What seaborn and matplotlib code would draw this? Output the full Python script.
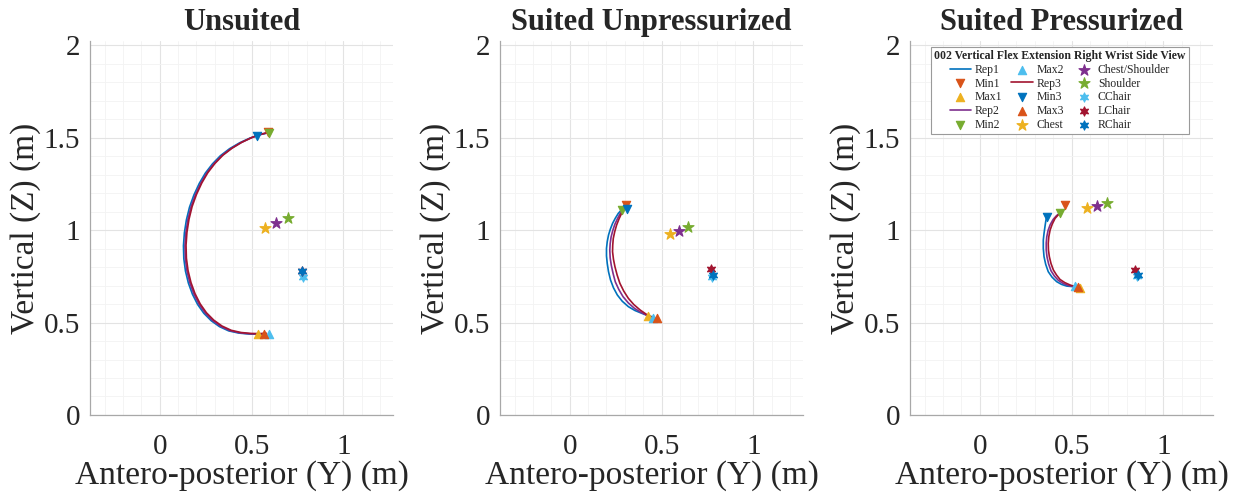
import numpy as np
import pandas as pd
import matplotlib
matplotlib.use("Agg")
import matplotlib.pyplot as plt
from matplotlib.ticker import MultipleLocator
import seaborn as sns

# ---- data (Y = antero-posterior, Z = vertical, metres) ----
TITLES = ["Unsuited", "Suited Unpressurized", "Suited Pressurized"]
REP_LABELS = ["Rep1", "Rep2", "Rep3"]

# Unsuited
U_REP1_Y = [0.585, 0.54, 0.49, 0.435, 0.38, 0.33, 0.287, 0.248, 0.215, 0.186, 0.162, 0.145, 0.134,
            0.129, 0.131, 0.14, 0.156, 0.178, 0.206, 0.24, 0.28, 0.325, 0.375, 0.43, 0.485, 0.535, 0.57]
U_REP1_Z = [1.525, 1.515, 1.497, 1.472, 1.44, 1.402, 1.358, 1.308, 1.252, 1.19, 1.124, 1.055, 0.985,
            0.915, 0.845, 0.778, 0.713, 0.653, 0.598, 0.55, 0.51, 0.478, 0.455, 0.443, 0.438, 0.437, 0.438]
U_REP2_Y = [0.59, 0.545, 0.496, 0.442, 0.388, 0.338, 0.295, 0.256, 0.223, 0.194, 0.17, 0.153, 0.142,
            0.137, 0.139, 0.148, 0.164, 0.186, 0.214, 0.248, 0.288, 0.333, 0.383, 0.437, 0.492, 0.54, 0.575]
U_REP2_Z = [1.527, 1.516, 1.498, 1.473, 1.441, 1.403, 1.359, 1.309, 1.253, 1.191, 1.125, 1.056, 0.986,
            0.916, 0.846, 0.779, 0.714, 0.654, 0.599, 0.551, 0.511, 0.479, 0.456, 0.444, 0.439, 0.438, 0.44]
U_REP3_Y = [0.592, 0.548, 0.5, 0.447, 0.394, 0.344, 0.301, 0.262, 0.229, 0.2, 0.176, 0.159, 0.148,
            0.143, 0.145, 0.154, 0.17, 0.192, 0.22, 0.254, 0.294, 0.339, 0.389, 0.443, 0.497, 0.545, 0.58]
U_REP3_Z = [1.528, 1.518, 1.5, 1.475, 1.443, 1.405, 1.361, 1.311, 1.255, 1.193, 1.127, 1.058, 0.988,
            0.918, 0.848, 0.781, 0.716, 0.656, 0.601, 0.553, 0.513, 0.481, 0.458, 0.446, 0.441, 0.44, 0.442]
U_MIN_Y = [0.59, 0.595, 0.53]
U_MIN_Z = [1.53, 1.525, 1.51]
U_MAX_Y = [0.535, 0.595, 0.565]
U_MAX_Z = [0.44, 0.44, 0.44]
U_STAR_Y = [0.574, 0.634, 0.698]
U_STAR_Z = [1.012, 1.036, 1.063]
U_CHAIR_Y = [0.778, 0.775, 0.774]
U_CHAIR_Z = [0.748, 0.78, 0.778]

# Suited unpressurized
S_REP1_Y = [0.301, 0.282, 0.264, 0.248, 0.233, 0.221, 0.211, 0.204, 0.200, 0.200, 0.204, 0.211, 0.222,
            0.238, 0.259, 0.286, 0.319, 0.355, 0.392, 0.422, 0.446]
S_REP1_Z = [1.126, 1.110, 1.090, 1.064, 1.036, 1.005, 0.973, 0.937, 0.901, 0.860, 0.820, 0.775, 0.730,
            0.688, 0.649, 0.615, 0.586, 0.565, 0.550, 0.539, 0.532]
S_REP2_Y = [0.305, 0.29, 0.275, 0.26, 0.245, 0.234, 0.225, 0.22, 0.218, 0.22, 0.226, 0.236, 0.248,
            0.267, 0.29, 0.319, 0.352, 0.384, 0.415, 0.44, 0.46]
S_REP2_Z = [1.126, 1.110, 1.09, 1.062, 1.03, 0.997, 0.962, 0.926, 0.89, 0.85, 0.81, 0.765, 0.72,
            0.679, 0.64, 0.606, 0.577, 0.557, 0.541, 0.531, 0.525]
S_REP3_Y = [0.310, 0.296, 0.282, 0.268, 0.255, 0.245, 0.237, 0.234, 0.233, 0.238, 0.246, 0.258, 0.273,
            0.294, 0.319, 0.349, 0.383, 0.412, 0.437, 0.458, 0.474]
S_REP3_Z = [1.126, 1.110, 1.090, 1.060, 1.027, 0.992, 0.955, 0.919, 0.883, 0.842, 0.802, 0.757, 0.712,
            0.670, 0.631, 0.597, 0.568, 0.548, 0.532, 0.523, 0.517]
S_MIN_Y = [0.304, 0.286, 0.31]
S_MIN_Z = [1.135, 1.108, 1.112]
S_MAX_Y = [0.428, 0.455, 0.477]
S_MAX_Z = [0.535, 0.523, 0.526]
S_STAR_Y = [0.546, 0.596, 0.643]
S_STAR_Z = [0.977, 0.995, 1.015]
S_CHAIR_Y = [0.773, 0.769, 0.778]
S_CHAIR_Z = [0.748, 0.787, 0.757]

# Suited pressurized
P_REP1_Y = [0.364, 0.359, 0.355, 0.350, 0.346, 0.346, 0.350, 0.359, 0.373, 0.394, 0.419, 0.446, 0.474,
            0.498, 0.519]
P_REP1_Z = [1.072, 1.045, 1.018, 0.982, 0.946, 0.901, 0.856, 0.815, 0.775, 0.745, 0.721, 0.706, 0.697,
            0.695, 0.694]
P_REP2_Y = [0.440, 0.418, 0.400, 0.384, 0.372, 0.365, 0.362, 0.362, 0.366, 0.375, 0.388, 0.406, 0.428,
            0.455, 0.483, 0.508, 0.528]
P_REP2_Z = [1.095, 1.078, 1.058, 1.030, 0.998, 0.964, 0.93, 0.893, 0.856, 0.817, 0.78, 0.752, 0.728,
            0.711, 0.70, 0.695, 0.692]
P_REP3_Y = [0.446, 0.427, 0.410, 0.395, 0.383, 0.376, 0.373, 0.374, 0.379, 0.388, 0.401, 0.418, 0.437,
            0.463, 0.492, 0.514, 0.532]
P_REP3_Z = [1.099, 1.082, 1.063, 1.033, 1.000, 0.964, 0.928, 0.892, 0.856, 0.819, 0.784, 0.757, 0.733,
            0.716, 0.703, 0.696, 0.690]
P_MIN_Y = [0.464, 0.437, 0.364]
P_MIN_Z = [1.135, 1.090, 1.072]
P_MAX_Y = [0.546, 0.519, 0.537]
P_MAX_Z = [0.685, 0.699, 0.690]
P_STAR_Y = [0.583, 0.638, 0.692]
P_STAR_Z = [1.117, 1.132, 1.144]
P_CHAIR_Y = [0.855, 0.843, 0.862]
P_CHAIR_Z = [0.752, 0.784, 0.757]

# MATLAB default colour order
C_BLUE, C_ORANGE, C_YELLOW = "#0072BD", "#D95319", "#EDB120"
C_PURPLE, C_GREEN, C_CYAN, C_RED = "#7E2F8E", "#77AC30", "#4DBEEE", "#A2142F"

REP_COLORS = [C_BLUE, C_PURPLE, C_RED]
MIN_COLORS = [C_ORANGE, C_GREEN, C_BLUE]
MAX_COLORS = [C_YELLOW, C_CYAN, C_ORANGE]
STAR_LABELS = ["Chest", "Chest/Shoulder", "Shoulder"]
STAR_COLORS = [C_YELLOW, C_PURPLE, C_GREEN]
CHAIR_LABELS = ["CChair", "LChair", "RChair"]
CHAIR_COLORS = [C_CYAN, C_RED, C_BLUE]

LEGEND_ORDER = ["Rep1", "Min1", "Max1", "Rep2", "Min2", "Max2", "Rep3", "Min3", "Max3",
                "Chest", "Chest/Shoulder", "Shoulder", "CChair", "LChair", "RChair"]

PANELS = [
    ([(U_REP1_Y, U_REP1_Z), (U_REP2_Y, U_REP2_Z), (U_REP3_Y, U_REP3_Z)],
     U_MIN_Y, U_MIN_Z, U_MAX_Y, U_MAX_Z, U_STAR_Y, U_STAR_Z, U_CHAIR_Y, U_CHAIR_Z),
    ([(S_REP1_Y, S_REP1_Z), (S_REP2_Y, S_REP2_Z), (S_REP3_Y, S_REP3_Z)],
     S_MIN_Y, S_MIN_Z, S_MAX_Y, S_MAX_Z, S_STAR_Y, S_STAR_Z, S_CHAIR_Y, S_CHAIR_Z),
    ([(P_REP1_Y, P_REP1_Z), (P_REP2_Y, P_REP2_Z), (P_REP3_Y, P_REP3_Z)],
     P_MIN_Y, P_MIN_Z, P_MAX_Y, P_MAX_Z, P_STAR_Y, P_STAR_Z, P_CHAIR_Y, P_CHAIR_Z),
]

HEXAGRAM = (6, 1, 0)

sns.set_style("white")
plt.rcParams["font.family"] = ["Liberation Serif", "DejaVu Serif"]


def point(ax, y, z, marker, color, label, size):
    sns.scatterplot(x=[y], y=[z], ax=ax, marker=marker, color=color, s=size,
                    edgecolor=color, linewidth=0.8, label=label, legend=False, zorder=3)


def draw_panel(ax, title, reps, min_y, min_z, max_y, max_z, star_y, star_z, chair_y, chair_z):
    for i in range(3):
        ry, rz = reps[i]
        df = pd.DataFrame({"y": ry, "z": rz})
        sns.lineplot(data=df, x="y", y="z", sort=False, estimator=None, ax=ax,
                     color=REP_COLORS[i], linewidth=1.2, label=REP_LABELS[i], zorder=2)
        point(ax, min_y[i], min_z[i], "v", MIN_COLORS[i], f"Min{i+1}", 36)
        point(ax, max_y[i], max_z[i], "^", MAX_COLORS[i], f"Max{i+1}", 36)
    for i in range(3):
        point(ax, star_y[i], star_z[i], "*", STAR_COLORS[i], STAR_LABELS[i], 70)
    for i in range(3):
        point(ax, chair_y[i], chair_z[i], HEXAGRAM, CHAIR_COLORS[i], CHAIR_LABELS[i], 45)

    ax.set_xlim(-0.38, 1.27)
    ax.set_ylim(0, 2.02)
    ax.xaxis.set_minor_locator(MultipleLocator(0.1))
    ax.yaxis.set_minor_locator(MultipleLocator(0.1))
    ax.set_xticks([0, 0.5, 1])
    ax.set_xticklabels(["0", "0.5", "1"])
    ax.set_yticks([0, 0.5, 1, 1.5, 2])
    ax.set_yticklabels(["0", "0.5", "1", "1.5", "2"])
    ax.grid(which="major", color="#e3e3e3", linewidth=0.8)
    ax.grid(which="minor", color="#f3f3f3", linewidth=0.6)
    ax.set_axisbelow(True)
    ax.tick_params(axis="x", which="major", pad=14)
    ax.tick_params(axis="y", which="major", pad=7)
    ax.tick_params(which="major", direction="in", length=4, width=0.8, color="#999999",
                   labelsize=21, labelcolor="#262626")
    ax.tick_params(which="minor", length=0)
    for side in ["top", "right"]:
        ax.spines[side].set_visible(False)
    for side in ["left", "bottom"]:
        ax.spines[side].set_color("#a8a8a8")
        ax.spines[side].set_linewidth(0.9)
    ax.set_title(title, fontsize=22, fontweight="bold", pad=8)
    ax.set_xlabel("Antero-posterior (Y) (m)", fontsize=24, color="#262626", labelpad=0)
    ax.set_ylabel("Vertical (Z) (m)", fontsize=24, color="#262626", labelpad=2)
    if ax.get_legend() is not None:
        ax.get_legend().remove()


fig = plt.figure(figsize=(12.34, 4.98), dpi=100)
lefts = [90 / 1234, 500 / 1234, 910 / 1234]
axes = [fig.add_axes([l, 0.1667, 0.2455, 0.750]) for l in lefts]

for ax, title, panel in zip(axes, TITLES, PANELS):
    draw_panel(ax, title, *panel)

# legend on the last panel, column-major like MATLAB
ax = axes[2]
handles, labels = ax.get_legend_handles_labels()
lookup = dict(zip(labels, handles))
leg = ax.legend([lookup[k] for k in LEGEND_ORDER], LEGEND_ORDER, ncol=3,
                loc="upper center", bbox_to_anchor=(0.495, 0.985),
                title="002 Vertical Flex Extension Right Wrist Side View",
                fontsize=8.5, title_fontproperties={"weight": "bold", "size": 8.5},
                frameon=True, fancybox=False, edgecolor="#9a9a9a", framealpha=1,
                handlelength=1.8, handletextpad=0.3, columnspacing=0.8,
                labelspacing=0.15, borderpad=0.25, borderaxespad=0)
leg.get_frame().set_linewidth(0.8)

fig.savefig("out.png", dpi=100)
